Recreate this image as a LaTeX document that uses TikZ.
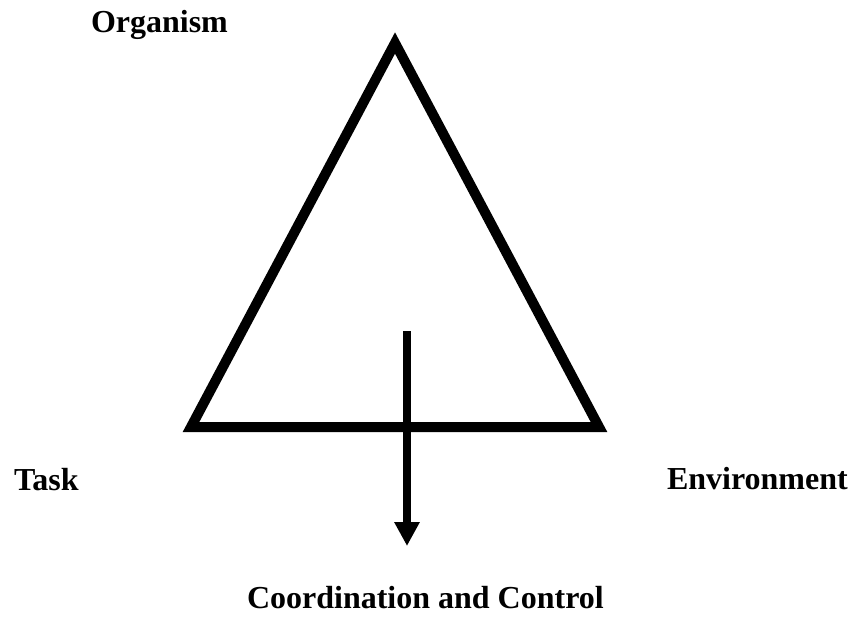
\documentclass[tikz,border=0pt]{standalone}
\usepackage{fontspec}
\setmainfont{Liberation Serif}
\usetikzlibrary{arrows.meta}
\begin{document}
\begin{tikzpicture}[x=1pt,y=-1pt,
  lbl/.style={inner sep=0pt,outer sep=0pt,anchor=base west,font=\fontsize{32}{38}\selectfont\bfseries},
  tri/.style={line width=10pt,line join=miter,miter limit=10},
  flow/.style={line width=8pt,-{Triangle[width=24pt,length=24pt]}}]
\useasboundingbox (0,0) rectangle (854,620);
\coordinate (apex) at (395,43);
\coordinate (bl) at (191,427);
\coordinate (br) at (599,427);
\draw[tri] (apex) -- (bl) -- (br) -- cycle;
\coordinate (astart) at (407,331);
\coordinate (aend) at (407,546);
\draw[flow] (astart) -- (aend);
\node[lbl] (org) at (91,33) {Organism};
\node[lbl] (task) at (14,490) {Task};
\node[lbl] (env) at (667,489) {Environment};
\node[lbl] (cc) at (247,608) {Coordination and Control};
\end{tikzpicture}
\end{document}
